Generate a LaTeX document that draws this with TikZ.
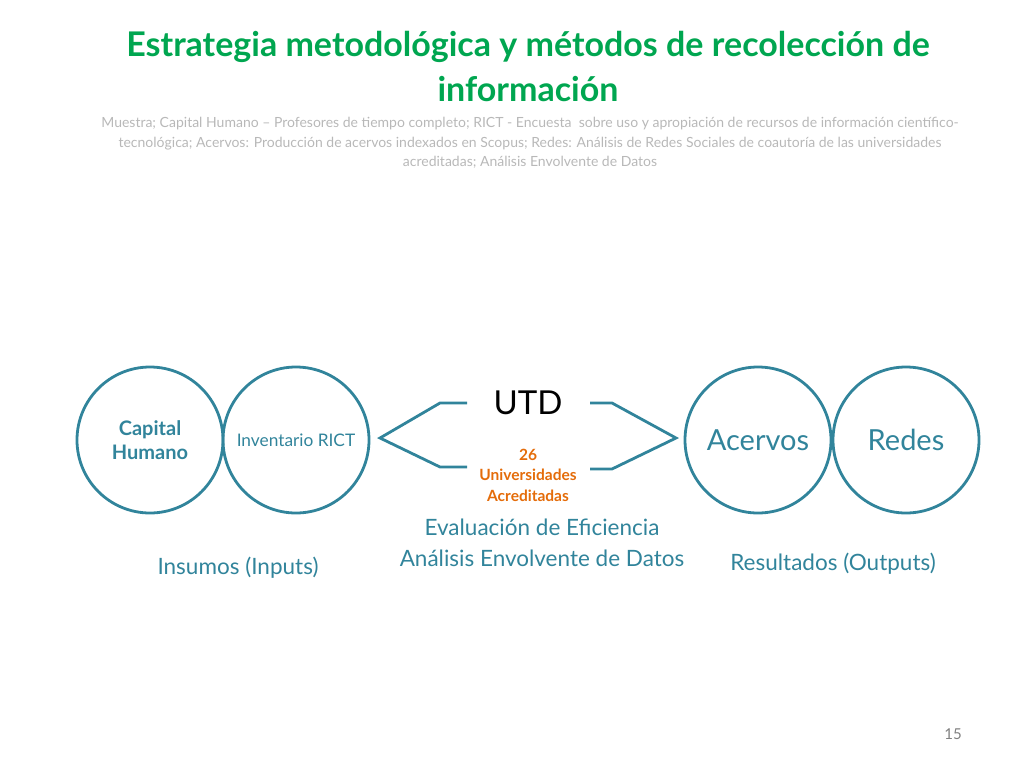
\documentclass[tikz,border=0pt]{standalone}
\usepackage{fontspec}
\setmainfont{Lato}
\definecolor{tgreen}{HTML}{00A650}
\definecolor{teal}{HTML}{31849B}
\definecolor{org}{HTML}{E46C0A}
\definecolor{sub}{HTML}{B8B8B8}
\begin{document}
\begin{tikzpicture}[x=1pt,y=-1pt,
  circ/.style={draw=teal,line width=2.8pt,circle,minimum size=146pt,inner sep=0pt,text=teal},
  brk/.style={draw=teal,line width=2.8pt,line join=miter},
  lbl/.style={text=teal,font=\fontsize{22.5}{26}\selectfont}]
\useasboundingbox (0,0) rectangle (1024,768);
\node[text=tgreen,font=\bfseries\fontsize{34}{45}\selectfont,align=center] (title) at (528,67) {Estrategia metodológica y métodos de recolección de\\información};
\node[text=sub,font=\fontsize{14}{19.5}\selectfont,align=center] (sub) at (530,143) {Muestra; Capital Humano – Profesores de tiempo completo; RICT - Encuesta \ sobre uso y apropiación de recursos de información científico-\\tecnológica; Acervos: Producción de acervos indexados en Scopus; Redes: Análisis de Redes Sociales de coautoría de las universidades\\acreditadas; Análisis Envolvente de Datos};
\node[circ,font=\bfseries\fontsize{20}{24}\selectfont,align=center] (ch) at (150,440) {Capital\\Humano};
\node[circ,font=\fontsize{17.3}{20}\selectfont] (ir) at (296,440) {Inventario RICT};
\node[circ,font=\fontsize{29}{34}\selectfont] (ac) at (758,440) {Acervos};
\node[circ,font=\fontsize{29}{34}\selectfont] (re) at (906,440) {Redes};
\node[font=\fontsize{33}{38}\selectfont] (utd) at (528,403) {UTD};
\node[text=org,font=\bfseries\fontsize{15.5}{20.5}\selectfont,align=center] (u26) at (528,475) {26\\Universidades\\Acreditadas};
\coordinate (l1) at (467,403); \coordinate (l2) at (440,403); \coordinate (l3) at (380,438); \coordinate (l4) at (440,467); \coordinate (l5) at (467,467);
\coordinate (r1) at (590,403); \coordinate (r2) at (612,403); \coordinate (r3) at (676,438); \coordinate (r4) at (612,469); \coordinate (r5) at (590,469);
\draw[brk] (l1) -- (l2) -- (l3) -- (l4) -- (l5);
\draw[brk] (r1) -- (r2) -- (r3) -- (r4) -- (r5);
\node[lbl] (ev) at (542,527) {Evaluación de Eficiencia};
\node[lbl] (aed) at (542,558) {Análisis Envolvente de Datos};
\node[lbl] (ins) at (238,568) {Insumos (Inputs)};
\node[lbl] (res) at (833,564) {Resultados (Outputs)};
\node[text=gray,font=\fontsize{15}{17}\selectfont] (pg) at (953,734) {15};
\end{tikzpicture}
\end{document}
